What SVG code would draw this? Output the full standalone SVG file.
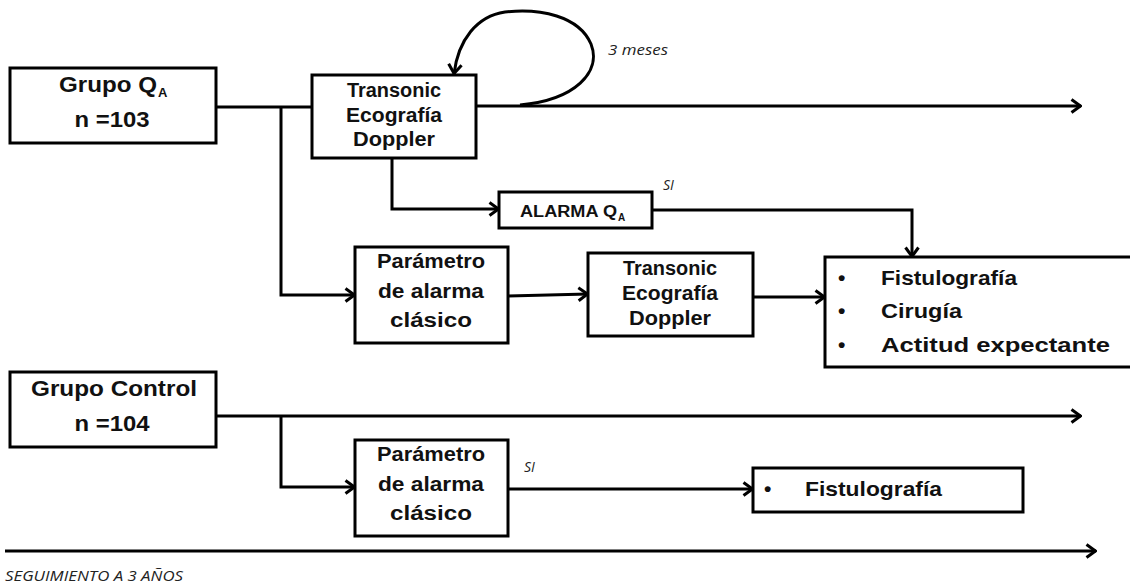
<svg xmlns="http://www.w3.org/2000/svg" width="1130" height="585" viewBox="0 0 1130 585">
<style>
.box{fill:#fff;stroke:#000;stroke-width:3}
.t{font-family:"Liberation Sans",Arial,sans-serif;font-weight:bold;fill:#111;text-anchor:middle}
.s{font-family:"Liberation Sans",Arial,sans-serif;font-weight:bold;fill:#111}
.t20{font-size:20px}
.t22{font-size:22px}
.tl{font-family:"Liberation Sans",Arial,sans-serif;font-weight:bold;fill:#111;font-size:21px}
.it{font-family:"Open Sans","Liberation Sans",sans-serif;font-style:italic;fill:#222;font-size:14px}
.ln{fill:none;stroke:#000;stroke-width:3}
.arr{marker-end:url(#ah)}
</style>
<defs>
<marker id="ah" viewBox="0 0 12 16" refX="11" refY="8" markerWidth="12" markerHeight="16" markerUnits="userSpaceOnUse" orient="auto">
<path d="M1.5,1.5 L10.5,8 L1.5,14.5" fill="none" stroke="#000" stroke-width="3"/>
</marker>
</defs>
<rect width="1130" height="585" fill="#fff"/>

<g id="connectors">
<path class="ln" d="M216,107 H312"/>
<path class="ln arr" d="M281,107 V295 H355"/>
<path class="ln arr" d="M476,106 H1081"/>
<path class="ln arr" d="M520,105 C575,100 602,72 591,44 C579,16 540,8 505,12 C477,16 458,40 454,74"/>
<path class="ln arr" d="M392,158 V209 H499"/>
<path class="ln arr" d="M652,210 H912 V257"/>
<path class="ln arr" d="M508,296 L588,294"/>
<path class="ln arr" d="M753,297 H825"/>
<path class="ln arr" d="M216,416 H1081"/>
<path class="ln arr" d="M281,416 V487 H355"/>
<path class="ln arr" d="M508,489 H753"/>
<path class="ln arr" d="M5,551 H1096"/>
</g>

<g id="grupo-qa">
<rect class="box" x="10" y="68" width="206" height="75"/>
<text class="s t22" x="59" y="92" textLength="98" lengthAdjust="spacingAndGlyphs">Grupo Q</text>
<text class="s" x="158" y="97" font-size="13">A</text>
<text class="t t22" x="112" y="127" textLength="75" lengthAdjust="spacingAndGlyphs">n =103</text>
</g>

<g id="transonic-1">
<rect class="box" x="312" y="75" width="164" height="83"/>
<text class="t t20" x="394" y="97" textLength="94" lengthAdjust="spacingAndGlyphs">Transonic</text>
<text class="t t20" x="394" y="122" textLength="96" lengthAdjust="spacingAndGlyphs">Ecografía</text>
<text class="t t20" x="394" y="146" textLength="82" lengthAdjust="spacingAndGlyphs">Doppler</text>
</g>

<g id="alarma-qa">
<rect class="box" x="499" y="192" width="153" height="36"/>
<text class="s" x="520" y="217" font-size="16" textLength="97" lengthAdjust="spacingAndGlyphs">ALARMA Q</text>
<text class="s" x="618" y="221" font-size="10">A</text>
</g>

<g id="parametro-1">
<rect class="box" x="355" y="247" width="153" height="96"/>
<text class="t t20" x="431" y="268" textLength="108" lengthAdjust="spacingAndGlyphs">Parámetro</text>
<text class="t t20" x="431" y="298" textLength="106" lengthAdjust="spacingAndGlyphs">de alarma</text>
<text class="t t20" x="431" y="327" textLength="82" lengthAdjust="spacingAndGlyphs">clásico</text>
</g>

<g id="transonic-2">
<rect class="box" x="588" y="253" width="165" height="83"/>
<text class="t t20" x="670" y="275" textLength="94" lengthAdjust="spacingAndGlyphs">Transonic</text>
<text class="t t20" x="670" y="300" textLength="96" lengthAdjust="spacingAndGlyphs">Ecografía</text>
<text class="t t20" x="670" y="325" textLength="82" lengthAdjust="spacingAndGlyphs">Doppler</text>
</g>

<g id="opciones">
<rect class="box" x="825" y="257" width="320" height="110"/>
<text class="tl" x="838" y="285">•</text>
<text class="tl" x="838" y="318">•</text>
<text class="tl" x="838" y="352">•</text>
<text class="tl" x="881" y="285" textLength="136" lengthAdjust="spacingAndGlyphs">Fistulografía</text>
<text class="tl" x="881" y="318" textLength="81" lengthAdjust="spacingAndGlyphs">Cirugía</text>
<text class="tl" x="881" y="352" textLength="229" lengthAdjust="spacingAndGlyphs">Actitud expectante</text>
</g>

<g id="grupo-control">
<rect class="box" x="10" y="372" width="206" height="75"/>
<text class="t t22" x="114" y="396" textLength="166" lengthAdjust="spacingAndGlyphs">Grupo Control</text>
<text class="t t22" x="112" y="431" textLength="75" lengthAdjust="spacingAndGlyphs">n =104</text>
</g>

<g id="parametro-2">
<rect class="box" x="355" y="440" width="153" height="96"/>
<text class="t t20" x="431" y="461" textLength="108" lengthAdjust="spacingAndGlyphs">Parámetro</text>
<text class="t t20" x="431" y="491" textLength="106" lengthAdjust="spacingAndGlyphs">de alarma</text>
<text class="t t20" x="431" y="520" textLength="82" lengthAdjust="spacingAndGlyphs">clásico</text>
</g>

<g id="fistulografia">
<rect class="box" x="753" y="468" width="270" height="44"/>
<text class="tl" x="764" y="496">•</text>
<text class="tl" x="805" y="496" textLength="137" lengthAdjust="spacingAndGlyphs">Fistulografía</text>
</g>

<g id="labels">
<text class="it" x="608" y="55" textLength="60" lengthAdjust="spacingAndGlyphs">3 meses</text>
<text class="it" x="663" y="190">SI</text>
<text class="it" x="524" y="472">SI</text>
<text class="it" x="5" y="581" textLength="178" lengthAdjust="spacingAndGlyphs">SEGUIMIENTO A 3 AÑOS</text>
</g>
</svg>
